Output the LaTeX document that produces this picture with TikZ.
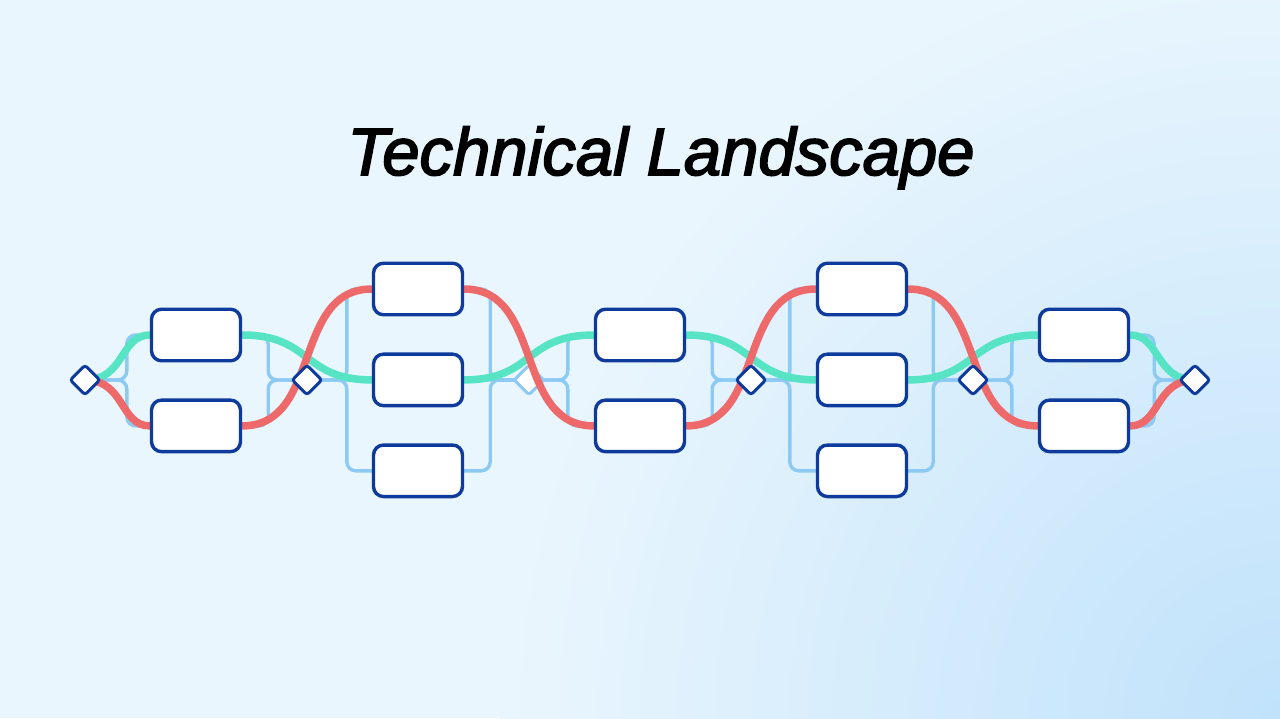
\documentclass[tikz,border=0pt]{standalone}
\usepackage{fontspec}
\setmainfont{Liberation Sans}
\newfontfamily\headfont[FakeBold=2.5]{Liberation Sans Italic}
\usetikzlibrary{positioning,shadings}

\definecolor{navy}{RGB}{14,58,156}
\definecolor{mint}{RGB}{86,228,196}
\definecolor{coral}{RGB}{238,106,106}
\definecolor{sky}{RGB}{140,202,243}
\definecolor{paleBase}{RGB}{234,246,253}
\definecolor{paleDeep}{RGB}{192,226,251}

\pgfdeclarelayer{bg}
\pgfdeclarelayer{wires}
\pgfdeclarelayer{ghost}
\pgfdeclarelayer{strands}
\pgfsetlayers{bg,wires,ghost,strands,main}

\begin{document}
\begin{tikzpicture}[x=1pt,y=-1pt]
	\useasboundingbox (0,0) rectangle (1280,718);
	\tikzset{BoxStyle/.style =
		{draw = navy,
			fill = white,
			line width = 3.4pt,
			rounded corners = 10pt,
			minimum width = 89pt,
			minimum height = 51.5pt}}
	\tikzset{GateStyle/.style =
		{draw = navy,
			fill = white,
			line width = 3pt,
			rounded corners = 3pt,
			minimum size = 21pt,
			inner sep = 0pt,
			rotate = 45}}
	\tikzset{WireStyle/.style = {draw = sky, line width = 3.4pt, rounded corners = 9pt}}
	\tikzset{StrandStyle/.style = {line width = 7.5pt, line cap = round}}
	% backdrop
	\begin{pgfonlayer}{bg}
		\fill[paleBase] (0,0) rectangle (1280,718);
		\begin{scope}
			\clip (0,0) rectangle (1280,718);
			\shade[inner color = paleDeep, outer color = paleBase] (1280,718) circle (780);
		\end{scope}
	\end{pgfonlayer}
	\node[font = \headfont\fontsize{67}{72}\selectfont, anchor = base] (title) at (661,175) {Technical Landscape};
	% boxes, column by column
	\node[BoxStyle] (A1) at (196,335) {};
	\node[BoxStyle, below = 36pt of A1] (A2) {};
	\node[BoxStyle] (B1) at (418,289) {};
	\node[BoxStyle, below = 36pt of B1] (B2) {};
	\node[BoxStyle, below = 36pt of B2] (B3) {};
	\node[BoxStyle] (C1) at (640,335) {};
	\node[BoxStyle, below = 36pt of C1] (C2) {};
	\node[BoxStyle] (D1) at (862,289) {};
	\node[BoxStyle, below = 36pt of D1] (D2) {};
	\node[BoxStyle, below = 36pt of D2] (D3) {};
	\node[BoxStyle] (E1) at (1084,335) {};
	\node[BoxStyle, below = 36pt of E1] (E2) {};
	% junctions
	\node[GateStyle] (g0) at (85,380) {};
	\node[GateStyle] (g1) at (307,380) {};
	\node[GateStyle] (g3) at (751,380) {};
	\node[GateStyle] (g4) at (973,380) {};
	\node[GateStyle] (g5) at (1195,380) {};
	\begin{pgfonlayer}{ghost}
		\node[GateStyle, draw = sky] (g2) at (529,380) {};
	\end{pgfonlayer}
	% thin branches
	\begin{pgfonlayer}{wires}
		\draw[WireStyle] (A1.west) -- ++(-23,0) |- (g0.center);
		\draw[WireStyle] (A2.west) -- ++(-23,0) |- (g0.center);
		\draw[WireStyle] (A1.east) -- ++(26,0) |- (g1.center);
		\draw[WireStyle] (A2.east) -- ++(26,0) |- (g1.center);
		\draw[WireStyle] (B1.west) -- ++(-25,0) |- (g1.center);
		\draw[WireStyle] (B2.west) -- (g1.center);
		\draw[WireStyle] (B3.west) -- ++(-25,0) |- (g1.center);
		\draw[WireStyle] (B1.east) -- ++(26,0) |- (g2.center);
		\draw[WireStyle] (B2.east) -- (g2.center);
		\draw[WireStyle] (B3.east) -- ++(26,0) |- (g2.center);
		\draw[WireStyle] (C1.west) -- ++(-26,0) |- (g2.center);
		\draw[WireStyle] (C2.west) -- ++(-26,0) |- (g2.center);
		\draw[WireStyle] (C1.east) -- ++(26,0) |- (g3.center);
		\draw[WireStyle] (C2.east) -- ++(26,0) |- (g3.center);
		\draw[WireStyle] (D1.west) -- ++(-26,0) |- (g3.center);
		\draw[WireStyle] (D2.west) -- (g3.center);
		\draw[WireStyle] (D3.west) -- ++(-26,0) |- (g3.center);
		\draw[WireStyle] (D1.east) -- ++(25,0) |- (g4.center);
		\draw[WireStyle] (D2.east) -- (g4.center);
		\draw[WireStyle] (D3.east) -- ++(25,0) |- (g4.center);
		\draw[WireStyle] (E1.west) -- ++(-26,0) |- (g4.center);
		\draw[WireStyle] (E2.west) -- ++(-26,0) |- (g4.center);
		\draw[WireStyle] (E1.east) -- ++(24,0) |- (g5.center);
		\draw[WireStyle] (E2.east) -- ++(24,0) |- (g5.center);
	\end{pgfonlayer}
	% the two strands
	\begin{pgfonlayer}{strands}
		\draw[StrandStyle, mint] (g0.center) .. controls +(40,0) and +(-30,0) .. (A1.west)
			-- (A1.east) .. controls +(70,0) and +(-70,0) .. (B2.west)
			-- (B2.east) .. controls +(70,0) and +(-70,0) .. (C1.west)
			-- (C1.east) .. controls +(70,0) and +(-70,0) .. (D2.west)
			-- (D2.east) .. controls +(70,0) and +(-70,0) .. (E1.west)
			-- (E1.east) .. controls +(30,0) and +(-40,0) .. (g5.center);
		\draw[StrandStyle, coral] (g0.center) .. controls +(40,0) and +(-30,0) .. (A2.west)
			-- (A2.east) .. controls +(80,0) and +(-80,0) .. (B1.west)
			-- (B1.east) .. controls +(80,0) and +(-80,0) .. (C2.west)
			-- (C2.east) .. controls +(80,0) and +(-80,0) .. (D1.west)
			-- (D1.east) .. controls +(80,0) and +(-80,0) .. (E2.west)
			-- (E2.east) .. controls +(30,0) and +(-40,0) .. (g5.center);
	\end{pgfonlayer}
\end{tikzpicture}
\end{document}
